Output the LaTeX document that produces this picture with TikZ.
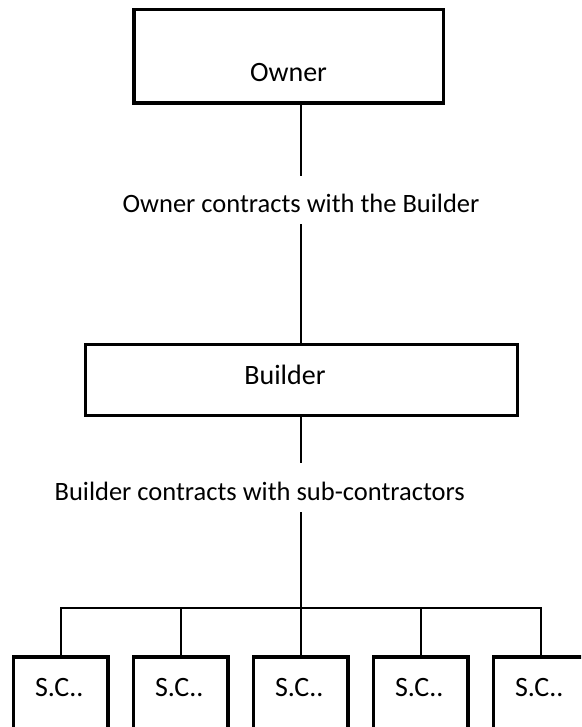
\documentclass[tikz,border=0pt]{standalone}
\usepackage{fontspec}
\setmainfont{Carlito}
\begin{document}
\begin{tikzpicture}[x=1pt,y=-1pt,
  boxnode/.style={draw, line width=3.3pt, inner sep=0pt},
  conn/.style={line width=1.4pt},
  txt/.style={font=\fontsize{26.5}{30}\selectfont, inner sep=0pt, anchor=base},
  boxtxt/.style={font=\fontsize{28}{32}\selectfont, inner sep=0pt, anchor=base}]
\clip (0,0) rectangle (581,727);
% boxes
\node[boxnode, minimum width=309.5pt, minimum height=93.5pt] (owner) at (288.75,56.25) {};
\node[boxnode, minimum width=432pt, minimum height=70.6pt] (builder) at (301.3,380) {};
\foreach \i in {1,...,5}{
  \node[boxnode, minimum width=94.3pt, minimum height=83pt] (sc\i) at ({60.8+120*(\i-1)},698.5) {};
  \node[boxtxt] (sct\i) at ({59.3+120*(\i-1)},696) {S.C..};
}
% texts
\node[boxtxt] (ownertext) at (288.5,82) {Owner};
\node[txt] (lab1) at (301,213) {Owner contracts with the Builder};
\node[boxtxt] (buildertext) at (285,384) {Builder};
\node[txt, anchor=base east] (lab2) at (465,500) {Builder contracts with sub-contractors};
% connector break points
\coordinate (c1a) at (301,176);
\coordinate (c1b) at (301,224);
\coordinate (c2a) at (301,463);
\coordinate (c2b) at (301,512);
\coordinate (bus) at (301,608);
% connectors
\draw[conn] (owner.south -| c1a) -- (c1a);
\draw[conn] (c1b) -- (builder.north -| c1b);
\draw[conn] (builder.south -| c2a) -- (c2a);
\draw[conn] (c2b) -- (bus);
\draw[conn] (sc1.north) -- (sc1.north |- bus) -- (sc5.north |- bus) -- (sc5.north);
\foreach \i in {2,3,4}{
  \draw[conn] (sc\i.north |- bus) -- (sc\i.north);
}
\end{tikzpicture}
\end{document}
